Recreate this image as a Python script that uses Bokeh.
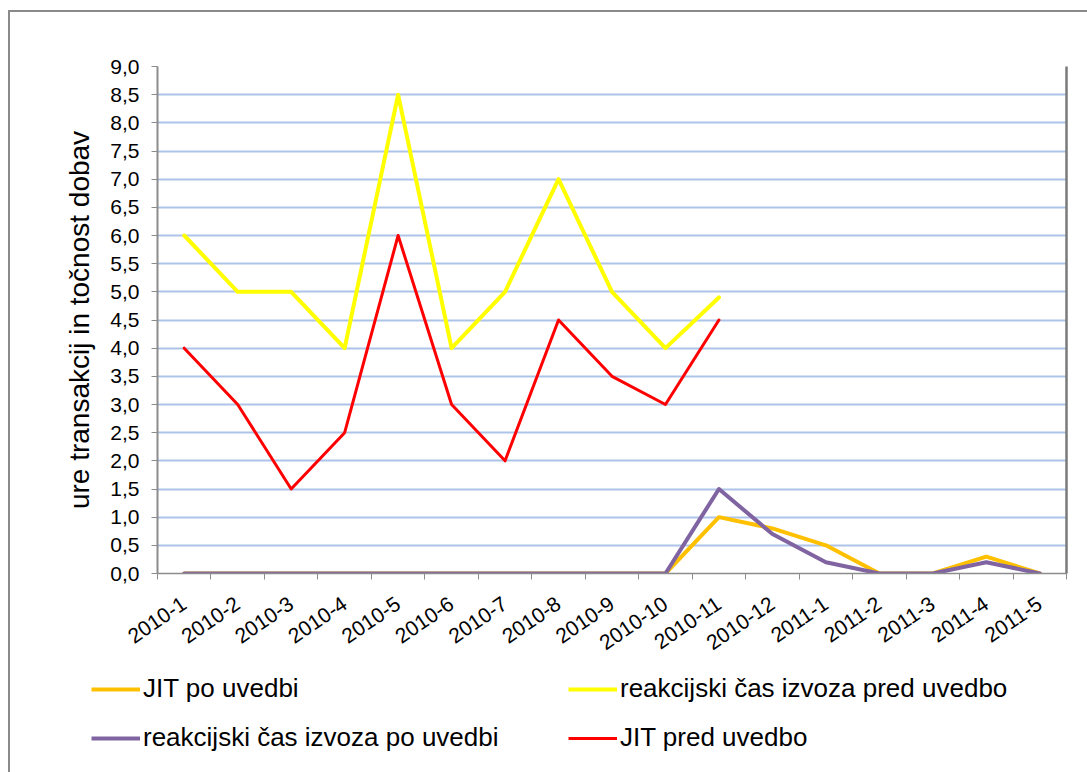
from bokeh.plotting import figure
from bokeh.models import Range1d, FixedTicker, Legend, LegendItem, LinearAxis
from bokeh.embed import file_html
from bokeh.resources import INLINE

# ---- data ----
categories = ["2010-1", "2010-2", "2010-3", "2010-4", "2010-5", "2010-6", "2010-7",
              "2010-8", "2010-9", "2010-10", "2010-11", "2010-12", "2011-1", "2011-2",
              "2011-3", "2011-4", "2011-5"]
jit_po_uvedbi = [0, 0, 0, 0, 0, 0, 0, 0, 0, 0, 1.0, 0.8, 0.5, 0, 0, 0.3, 0]
reak_pred_uvedbo = [6.0, 5.0, 5.0, 4.0, 8.5, 4.0, 5.0, 7.0, 5.0, 4.0, 4.9]
reak_po_uvedbi = [0, 0, 0, 0, 0, 0, 0, 0, 0, 0, 1.5, 0.7, 0.2, 0, 0, 0.2, 0]
jit_pred_uvedbo = [4.0, 3.0, 1.5, 2.5, 6.0, 3.0, 2.0, 4.5, 3.5, 3.0, 4.5]

series_names = ["JIT po uvedbi", "reakcijski čas izvoza pred uvedbo",
                "reakcijski čas izvoza po uvedbi", "JIT pred uvedbo"]
series_colors = ["#ffc000", "#ffff00", "#8064a2", "#ff0000"]

y_ticks = [0.0, 0.5, 1.0, 1.5, 2.0, 2.5, 3.0, 3.5, 4.0, 4.5, 5.0, 5.5, 6.0,
           6.5, 7.0, 7.5, 8.0, 8.5, 9.0]
y_tick_labels = ["0,0", "0,5", "1,0", "1,5", "2,0", "2,5", "3,0", "3,5", "4,0",
                 "4,5", "5,0", "5,5", "6,0", "6,5", "7,0", "7,5", "8,0", "8,5", "9,0"]
y_title = "ure transakcij in točnost dobav"

FONT = "Liberation Sans"
n = len(categories)
xs = [i + 0.5 for i in range(n)]
widths = [4, 4, 4, 3]

# ---- chart ----
p = figure(width=1087, height=670, output_backend="svg", toolbar_location=None,
           x_range=Range1d(0, n), y_range=Range1d(y_ticks[0], y_ticks[-1]),
           min_border_left=157, min_border_right=21, min_border_top=66,
           min_border_bottom=97)
p.border_fill_alpha = 0
p.background_fill_color = "white"
p.outline_line_color = None
p.styles = {"box-shadow": "inset 8px 10px 0 0 #ffffff, inset 10px 12px 0 0 #8a8a8a"}

xa = p.xaxis[0]
xa.ticker = FixedTicker(ticks=xs, minor_ticks=list(range(n + 1)))
xa.major_label_overrides = {x: c for x, c in zip(xs, categories)}
xa.major_tick_out = 0
xa.major_tick_in = 0
xa.minor_tick_out = 6
xa.minor_tick_in = 0
xa.minor_tick_line_color = "#8c8c8c"
xa.minor_tick_line_width = 1
xa.axis_line_color = "#8c8c8c"
xa.axis_line_width = 1.5
xa.major_label_orientation = 0.6
xa.major_label_text_font = FONT
xa.major_label_text_font_size = "21px"
xa.major_label_text_color = "#000000"
xa.major_label_standoff = 22

ya = p.yaxis[0]
ya.ticker = FixedTicker(ticks=y_ticks)
ya.major_label_overrides = {t: l for t, l in zip(y_ticks, y_tick_labels)}
ya.major_tick_out = 6
ya.major_tick_in = 0
ya.major_tick_line_color = "#8c8c8c"
ya.axis_line_color = "#8c8c8c"
ya.axis_line_width = 2
ya.major_label_text_font = FONT
ya.major_label_text_font_size = "21px"
ya.major_label_text_color = "#000000"
ya.major_label_standoff = 12
ya.axis_label = y_title
ya.axis_label_text_font = FONT
ya.axis_label_text_font_size = "28px"
ya.axis_label_text_font_style = "normal"
ya.axis_label_text_color = "#000000"
ya.axis_label_standoff = 12

ra = LinearAxis(ticker=FixedTicker(ticks=[]), axis_line_color="#7a7a7a",
                axis_line_width=2.5, major_tick_out=0, major_tick_in=0,
                major_label_text_font_size="0px")
p.add_layout(ra, "right")

p.xgrid.visible = False
p.ygrid.grid_line_color = "#adc3e8"
p.ygrid.grid_line_width = 2

all_series = [jit_po_uvedbi, reak_pred_uvedbo, reak_po_uvedbi, jit_pred_uvedbo]
for vals, col, w in zip(all_series, series_colors, widths):
    p.line(xs[:len(vals)], vals, line_color=col, line_width=w,
           line_join="round", line_cap="round")

# ---- legend strip (separate root, so its frame is not aligned to the chart) ----
lp = figure(width=1087, height=102, output_backend="svg", toolbar_location=None,
            x_axis_location=None, y_axis_location=None,
            x_range=Range1d(0, 1), y_range=Range1d(0, 1),
            min_border_left=0, min_border_right=0, min_border_top=0, min_border_bottom=0)
lp.border_fill_alpha = 0
lp.background_fill_alpha = 0
lp.outline_line_color = None
lp.grid.visible = False
lp.styles = {"box-shadow": "inset 8px 0 0 0 #ffffff, inset 10px 0 0 0 #8a8a8a"}
# single-point keys: they draw nothing in the strip, only their legend swatches
keys = [lp.line([0], [0], line_color=col, line_width=w) for col, w in zip(series_colors, widths)]


def make_legend(idx, loc):
    leg = Legend(items=[LegendItem(label=series_names[i], renderers=[keys[i]]) for i in idx],
                 location=loc, orientation="vertical")
    leg.glyph_width = 49
    leg.glyph_height = 30
    leg.label_height = 30
    leg.spacing = 18
    leg.padding = 0
    leg.margin = 0
    leg.label_standoff = 3
    leg.border_line_color = None
    leg.background_fill_alpha = 0
    leg.label_text_font = FONT
    leg.label_text_font_size = "26px"
    leg.label_text_color = "#000000"
    return leg


lp.add_layout(make_legend([0, 2], (91, 19)))
lp.add_layout(make_legend([1, 3], (568, 19)))

open("out.html", "w").write(file_html([p, lp], INLINE))
